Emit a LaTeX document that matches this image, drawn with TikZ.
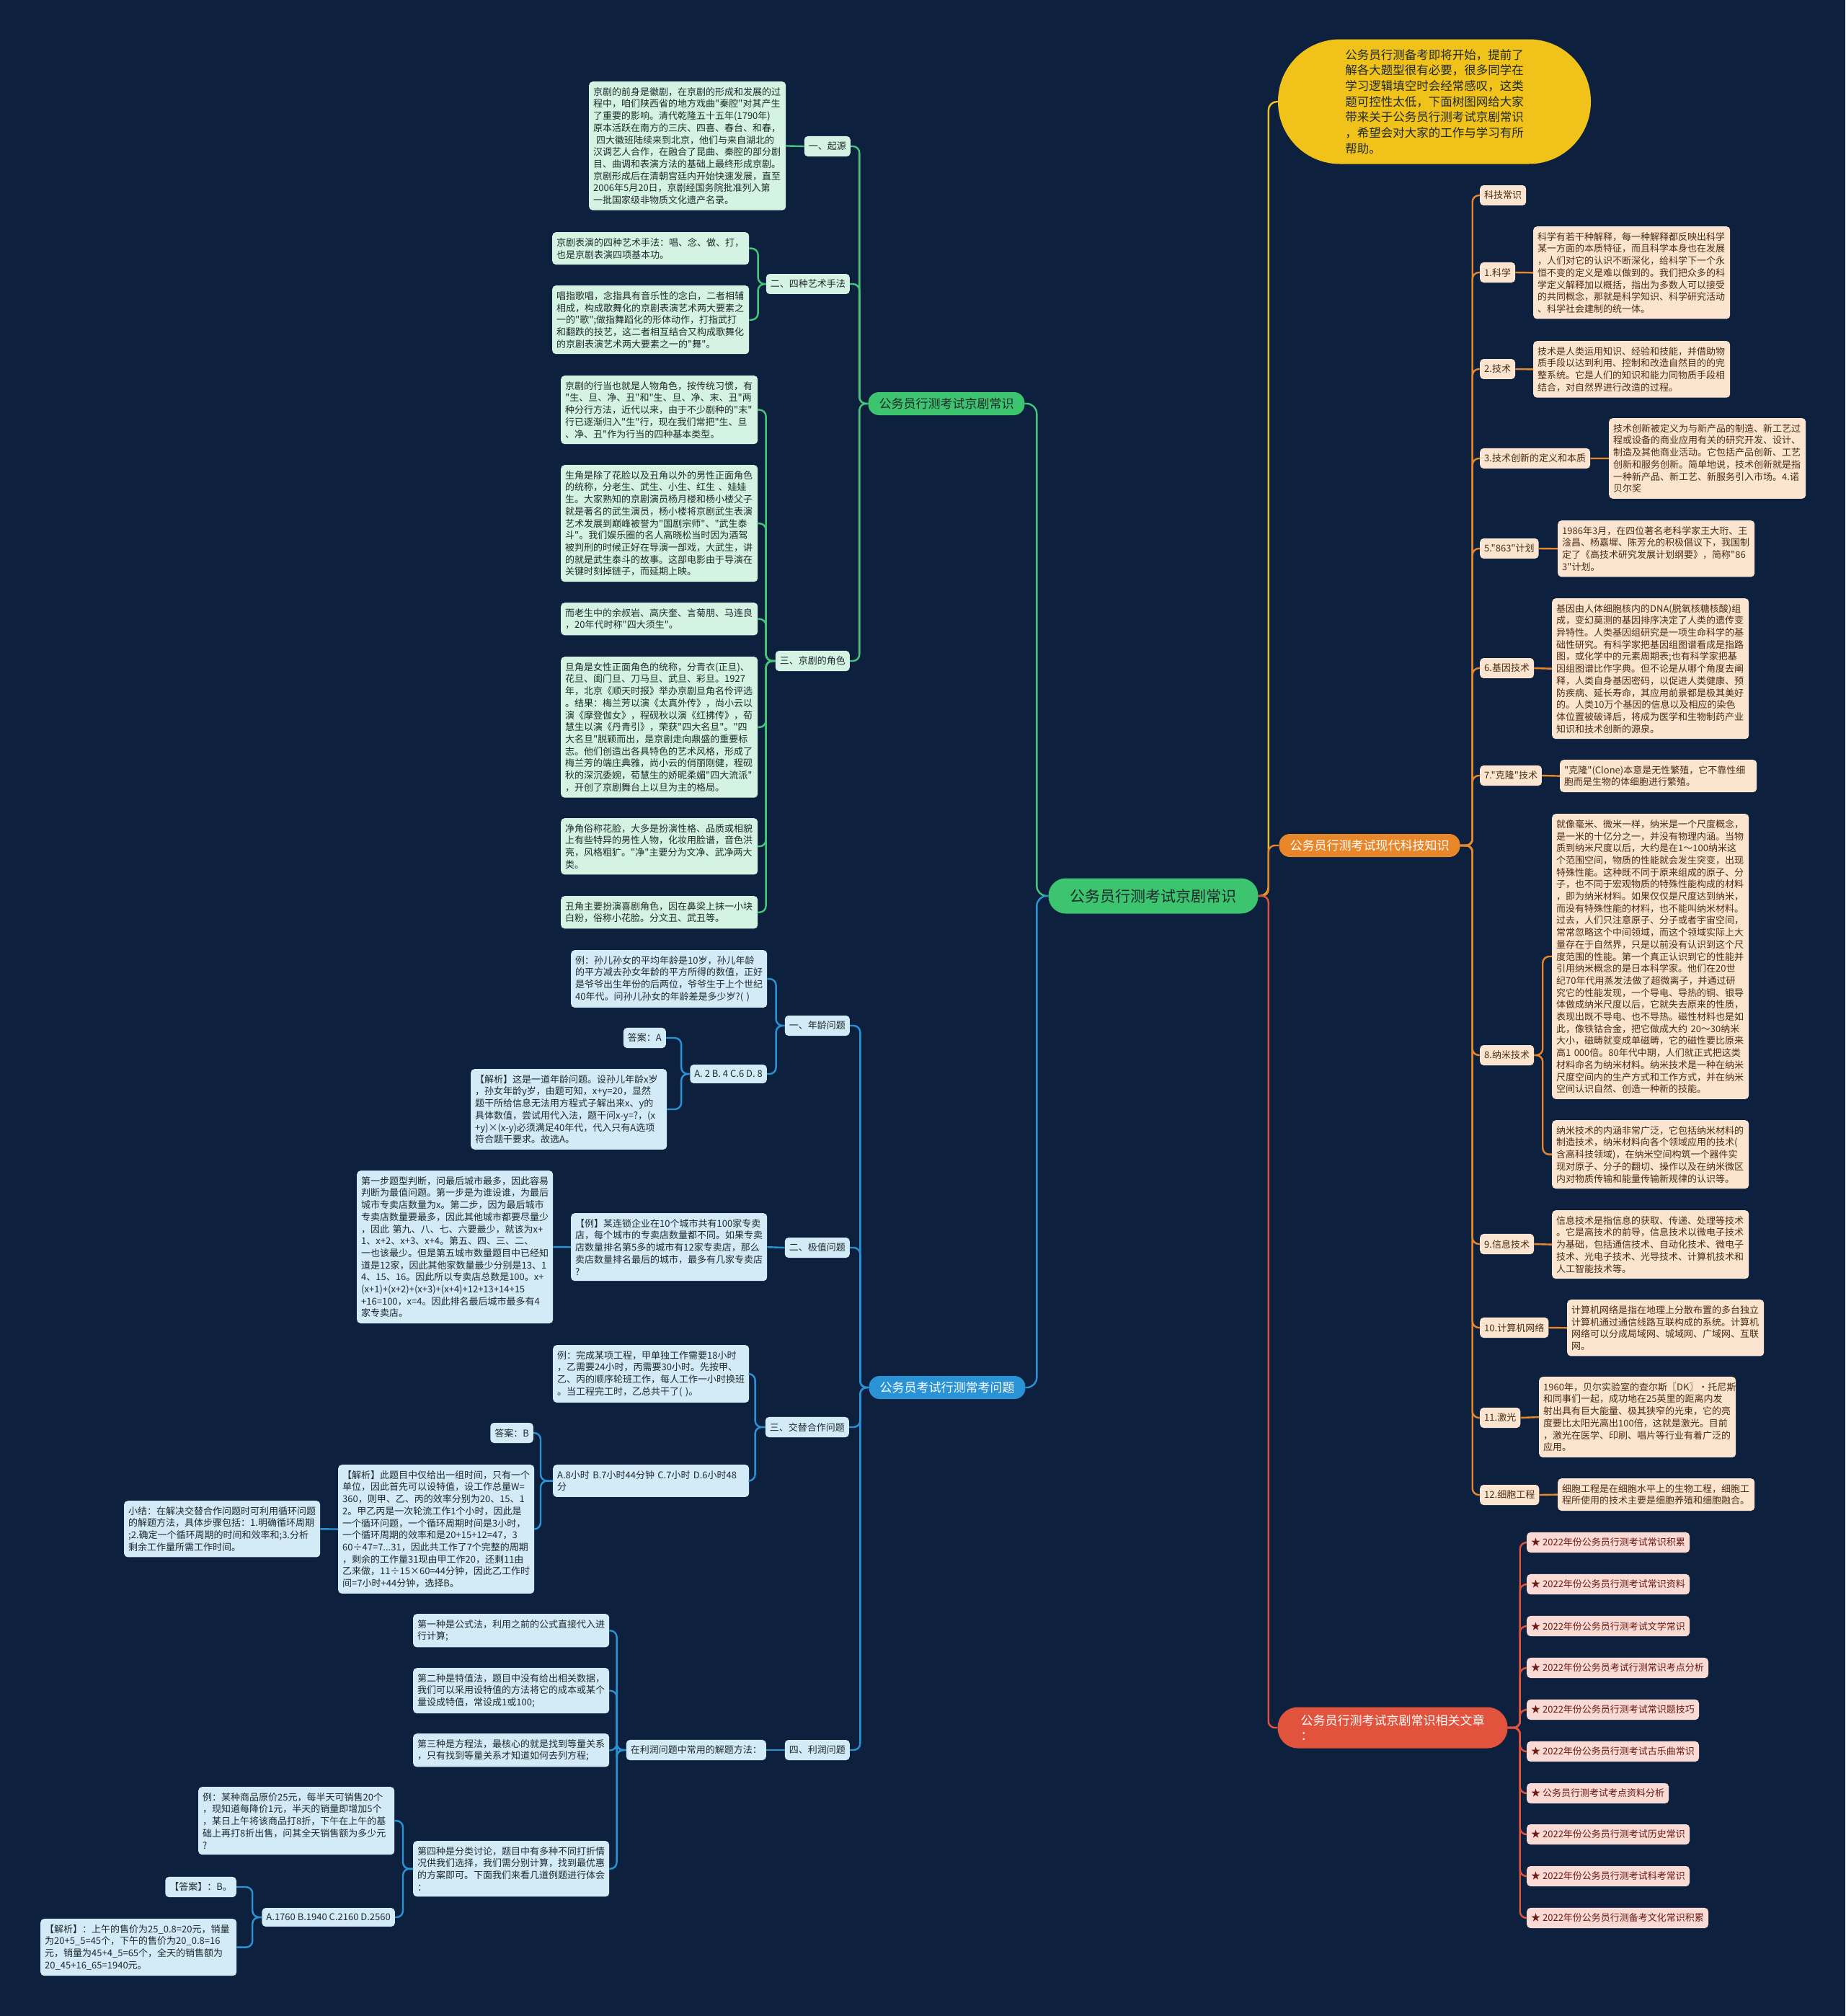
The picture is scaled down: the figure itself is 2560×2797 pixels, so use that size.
\documentclass[tikz,border=0pt]{standalone}
\usepackage{fontspec}
\setmainfont{Noto Sans CJK SC}[Ligatures=TeXOff]
\usepackage{xcolor}
\definecolor{navy-bg}{HTML}{0D213F}
\definecolor{root-green}{HTML}{3CC46E}
\definecolor{opera-line}{HTML}{45C67B}
\definecolor{opera-fill}{HTML}{D4F3E2}
\definecolor{exam-line}{HTML}{2A93D6}
\definecolor{exam-fill}{HTML}{D3EAF7}
\definecolor{tech-line}{HTML}{E8862A}
\definecolor{tech-fill}{HTML}{FBE5D0}
\definecolor{tech-ink}{HTML}{4B2D12}
\definecolor{read-line}{HTML}{E2533D}
\definecolor{read-fill}{HTML}{F9DAD5}
\definecolor{read-ink}{HTML}{6B1A14}
\definecolor{intro-gold}{HTML}{F0C21A}
\definecolor{leaf-ink}{HTML}{1F2A2E}
\newcommand{\leaffont}{\fontsize{13pt}{16.7pt}\selectfont}
\newcommand{\branchfont}{\fontsize{17pt}{21pt}\selectfont}

\begin{document}
\begin{tikzpicture}[x=1pt, y=-1pt,
    every node/.style={font=\leaffont, text=leaf-ink},
    gbox/.style={fill=opera-fill, rounded corners=5pt, inner xsep=6pt,
      inner ysep=8pt, align=left},
    gleaf/.style={gbox, text width=261pt, anchor=north west},
    bbox/.style={fill=exam-fill, rounded corners=5pt, inner xsep=6pt,
      inner ysep=8pt, align=left},
    bleaf/.style={bbox, text width=260pt, anchor=north west},
    obox/.style={fill=tech-fill, text=tech-ink, rounded corners=5pt,
      inner xsep=6pt, inner ysep=8pt, align=left},
    oleaf/.style={obox, text width=261pt, anchor=north west},
    rbox/.style={fill=read-fill, text=read-ink, rounded corners=5pt,
      inner xsep=6pt, inner ysep=8pt, anchor=west},
    branch/.style={font=\branchfont, text=white, rounded corners=15pt,
      minimum height=32pt, inner xsep=15pt},
    glink/.style={draw=opera-line, line width=2.4pt, rounded corners=9pt},
    blink/.style={draw=exam-line, line width=2.4pt, rounded corners=9pt},
    olink/.style={draw=tech-line, line width=2.4pt, rounded corners=9pt},
    rlink/.style={draw=read-line, line width=2.4pt, rounded corners=9pt},
    ylink/.style={draw=intro-gold, line width=2.4pt, rounded corners=12pt}]
    \useasboundingbox (0,0) rectangle (2560,2797);
    \fill[navy-bg] (0,0) rectangle (2560,2797);

    \node[fill=root-green, font=\fontsize{21pt}{25pt}\selectfont,
      rounded corners=24pt, minimum width=291pt, minimum height=49pt]
      (root) at (1600,1243) {公务员行测考试京剧常识};

    \node[branch, fill=root-green, text=leaf-ink] (jj) at (1313,560)
      {公务员行测考试京剧常识};
    \node[gbox, anchor=east] (jj1) at (1180,203) {一、起源};
    \node[gbox, anchor=east] (jj2) at (1179,394) {二、四种艺术手法};
    \node[gbox, anchor=east] (jj3) at (1179,917) {三、京剧的角色};
    \node[gleaf] (jj1a) at (817,113) {京剧的前身是徽剧，在京剧的形成和发展的过\\
      程中，咱们陕西省的地方戏曲"秦腔"对其产生\\
      了重要的影响。清代乾隆五十五年(1790年)\\
      原本活跃在南方的三庆、四喜、春台、和春，\\
      \hspace*{4pt}四大徽班陆续来到北京，他们与来自湖北的\\
      汉调艺人合作，在融合了昆曲、秦腔的部分剧\\
      目、曲调和表演方法的基础上最终形成京剧。\\
      京剧形成后在清朝宫廷内开始快速发展，直至\\
      2006年5月20日，京剧经国务院批准列入第\\
      一批国家级非物质文化遗产名录。};
    \node[gleaf] (jj2a) at (766,322) {京剧表演的四种艺术手法：唱、念、做、打，\\
      也是京剧表演四项基本功。};
    \node[gleaf] (jj2b) at (766,396) {唱指歌唱，念指具有音乐性的念白，二者相辅\\
      相成，构成歌舞化的京剧表演艺术两大要素之\\
      一的"歌";做指舞蹈化的形体动作，打指武打\\
      和翻跌的技艺，这二者相互结合又构成歌舞化\\
      的京剧表演艺术两大要素之一的"舞"。};
    \node[gleaf] (jj3a) at (778,521) {京剧的行当也就是人物角色，按传统习惯，有\\
      "生、旦、净、丑"和"生、旦、净、末、丑"两\\
      种分行方法，近代以来，由于不少剧种的"末"\\
      行已逐渐归入"生"行，现在我们常把"生、旦\\
      、净、丑"作为行当的四种基本类型。};
    \node[gleaf] (jj3b) at (778,645) {生角是除了花脸以及丑角以外的男性正面角色\\
      的统称，分老生、武生、小生、红生~、娃娃\\
      生。大家熟知的京剧演员杨月楼和杨小楼父子\\
      就是著名的武生演员，杨小楼将京剧武生表演\\
      艺术发展到巅峰被誉为"国剧宗师"、"武生泰\\
      斗"。我们娱乐圈的名人高晓松当时因为酒驾\\
      被判刑的时候正好在导演一部戏，大武生，讲\\
      的就是武生泰斗的故事。这部电影由于导演在\\
      关键时刻掉链子，而延期上映。};
    \node[gleaf] (jj3c) at (778,836) {而老生中的余叔岩、高庆奎、言菊朋、马连良\\
      ，20年代时称"四大须生"。};
    \node[gleaf] (jj3d) at (778,911) {旦角是女性正面角色的统称，分青衣(正旦)、\\
      花旦、闺门旦、刀马旦、武旦、彩旦。1927\\
      年，北京《顺天时报》举办京剧旦角名伶评选\\
      。结果：梅兰芳以演《太真外传》，尚小云以\\
      演《摩登伽女》，程砚秋以演《红拂传》，荀\\
      慧生以演《丹青引》，荣获"四大名旦"。"四\\
      大名旦"脱颖而出，是京剧走向鼎盛的重要标\\
      志。他们创造出各具特色的艺术风格，形成了\\
      梅兰芳的端庄典雅，尚小云的俏丽刚健，程砚\\
      秋的深沉委婉，荀慧生的娇昵柔媚"四大流派"\\
      ，开创了京剧舞台上以旦为主的格局。};
    \node[gleaf] (jj3e) at (778,1135) {净角俗称花脸，大多是扮演性格、品质或相貌\\
      上有些特异的男性人物，化妆用脸谱，音色洪\\
      亮，风格粗犷。"净"主要分为文净、武净两大\\
      类。};
    \node[gleaf] (jj3f) at (778,1243) {丑角主要扮演喜剧角色，因在鼻梁上抹一小块\\
      白粉，俗称小花脸。分文丑、武丑等。};

    \node[branch, fill=exam-line] (wt) at (1314,1925) {公务员考试行测常考问题};
    \node[bbox, anchor=east] (wt1) at (1179,1423) {一、年龄问题};
    \node[bleaf] (wt1a) at (792,1318) {例：孙儿孙女的平均年龄是10岁，孙儿年龄\\
      的平方减去孙女年龄的平方所得的数值，正好\\
      是爷爷出生年份的后两位，爷爷生于上个世纪\\
      40年代。问孙儿孙女的年龄差是多少岁?(~)};
    \node[bbox, anchor=east] (wt1b) at (1064,1490) {A. 2 B. 4 C.6 D. 8};
    \node[bbox, anchor=east] (wt1c) at (924,1440) {答案：A};
    \node[bleaf] (wt1d) at (653,1483) {【解析】这是一道年龄问题。设孙儿年龄x岁\\
      ，孙女年龄y岁，由题可知，x+y=20，显然\\
      题干所给信息无法用方程式子解出来x、y的\\
      具体数值，尝试用代入法，题干问x-y=?，(x\\
      +y)×(x-y)必须满足40年代，代入只有A选项\\
      符合题干要求。故选A。};
    \node[bbox, anchor=east] (wt2) at (1179,1731) {二、极值问题};
    \node[bleaf] (wt2a) at (792,1683) {【例】某连锁企业在10个城市共有100家专卖\\
      店，每个城市的专卖店数量都不同。如果专卖\\
      店数量排名第5多的城市有12家专卖店，那么\\
      卖店数量排名最后的城市，最多有几家专卖店\\
      ?};
    \node[bleaf] (wt2b) at (495,1624) {第一步题型判断，问最后城市最多，因此容易\\
      判断为最值问题。第一步是为谁设谁，为最后\\
      城市专卖店数量为x。第二步，因为最后城市\\
      专卖店数量要最多，因此其他城市都要尽量少\\
      ，因此~第九、八、七、六要最少，就该为x+\\
      1、x+2、x+3、x+4。第五、四、三、二、\\
      一也该最少。但是第五城市数量题目中已经知\\
      道是12家，因此其他家数量最少分别是13、1\\
      4、15、16。因此所以专卖店总数是100。x+\\
      (x+1)+(x+2)+(x+3)+(x+4)+12+13+14+15\\
      +16=100，x=4。因此排名最后城市最多有4\\
      家专卖店。};
    \node[bbox, anchor=east] (wt3) at (1178,1980) {三、交替合作问题};
    \node[bleaf] (wt3a) at (767,1866) {例：完成某项工程，甲单独工作需要18小时\\
      ，乙需要24小时，丙需要30小时。先按甲、\\
      乙、丙的顺序轮班工作，每人工作一小时换班\\
      。当工程完工时，乙总共干了(~)。};
    \node[bleaf] (wt3b) at (767,2032)
      {A.8小时~B.7小时44分钟~C.7小时~D.6小时48\\分};
    \node[bbox, anchor=east] (wt3c) at (740,1988) {答案：B};
    \node[bleaf] (wt3d) at (469,2032) {【解析】此题目中仅给出一组时间，只有一个\\
      单位，因此首先可以设特值，设工作总量W=\\
      360，则甲、乙、丙的效率分别为20、15、1\\
      2。甲乙丙是一次轮流工作1个小时，因此是\\
      一个循环问题，一个循环周期时间是3小时，\\
      一个循环周期的效率和是20+15+12=47，3\\
      60÷47=7...31，因此共工作了7个完整的周期\\
      ，剩余的工作量31现由甲工作20，还剩11由\\
      乙来做，11÷15×60=44分钟，因此乙工作时\\
      间=7小时+44分钟，选择B。};
    \node[bleaf] (wt3e) at (172,2082) {小结：在解决交替合作问题时可利用循环问题\\
      的解题方法，具体步骤包括：1.明确循环周期\\
      ;2.确定一个循环周期的时间和效率和;3.分析\\
      剩余工作量所需工作时间。};
    \node[bbox, anchor=east] (wt4) at (1179,2428) {四、利润问题};
    \node[bbox, anchor=east] (wt4a) at (1063,2428) {在利润问题中常用的解题方法：};
    \node[bleaf] (wt4b) at (573,2239) {第一种是公式法，利用之前的公式直接代入进\\
      行计算;};
    \node[bleaf] (wt4c) at (573,2314) {第二种是特值法，题目中没有给出相关数据，\\
      我们可以采用设特值的方法将它的成本或某个\\
      量设成特值，常设成1或100;};
    \node[bleaf] (wt4d) at (573,2405) {第三种是方程法，最核心的就是找到等量关系\\
      ，只有找到等量关系才知道如何去列方程;};
    \node[bleaf] (wt4e) at (573,2554) {第四种是分类讨论，题目中有多种不同打折情\\
      况供我们选择，我们需分别计算，找到最优惠\\
      的方案即可。下面我们来看几道例题进行体会\\
      ：};
    \node[bleaf] (wt4f) at (275,2479) {例：某种商品原价25元，每半天可销售20个\\
      ，现知道每降价1元，半天的销量即增加5个\\
      ，某日上午将该商品打8折，下午在上午的基\\
      础上再打8折出售，问其全天销售额为多少元\\
      ?};
    \node[bbox, anchor=east] (wt4g) at (548,2660) {A.1760 B.1940 C.2160 D.2560};
    \node[bbox, anchor=east] (wt4h) at (328,2618) {【答案】：B。};
    \node[bleaf] (wt4i) at (56,2662) {【解析】：上午的售价为25\_0.8=20元，销量\\
      为20+5\_5=45个，下午的售价为20\_0.8=16\\
      元，销量为45+4\_5=65个，全天的销售额为\\
      20\_45+16\_65=1940元。};

    \node[fill=intro-gold, rounded corners=86pt, minimum width=434pt,
      minimum height=173pt, align=left, text=leaf-ink,
      font=\fontsize{16.5pt}{21.7pt}\selectfont] (intro) at (1990,141)
      {公务员行测备考即将开始，提前了\\
      解各大题型很有必要，很多同学在\\
      学习逻辑填空时会经常感叹，这类\\
      题可控性太低，下面树图网给大家\\
      带来关于公务员行测考试京剧常识\\
      ，希望会对大家的工作与学习有所\\
      帮助。};

    \node[branch, fill=tech-line] (kj) at (1900,1173) {公务员行测考试现代科技知识};
    \node[obox, anchor=west] (kj0) at (2053,271) {科技常识};
    \node[obox, anchor=west] (kj1) at (2053,378) {1.科学};
    \node[oleaf] (kj1a) at (2127,314) {科学有若干种解释，每一种解释都反映出科学\\
      某一方面的本质特征，而且科学本身也在发展\\
      ，人们对它的认识不断深化，给科学下一个永\\
      恒不变的定义是难以做到的。我们把众多的科\\
      学定义解释加以概括，指出为多数人可以接受\\
      的共同概念，那就是科学知识、科学研究活动\\
      、科学社会建制的统一体。};
    \node[obox, anchor=west] (kj2) at (2053,512) {2.技术};
    \node[oleaf] (kj2a) at (2127,473) {技术是人类运用知识、经验和技能，并借助物\\
      质手段以达到利用、控制和改造自然目的的完\\
      整系统。它是人们的知识和能力同物质手段相\\
      结合，对自然界进行改造的过程。};
    \node[obox, anchor=west] (kj3) at (2053,636) {3.技术创新的定义和本质};
    \node[oleaf] (kj3a) at (2232,580) {技术创新被定义为与新产品的制造、新工艺过\\
      程或设备的商业应用有关的研究开发、设计、\\
      制造及其他商业活动。它包括产品创新、工艺\\
      创新和服务创新。简单地说，技术创新就是指\\
      一种新产品、新工艺、新服务引入市场。4.诺\\
      贝尔奖};
    \node[obox, anchor=west] (kj5) at (2053,761) {5."863"计划};
    \node[oleaf] (kj5a) at (2161,722) {1986年3月，在四位著名老科学家王大珩、王\\
      淦昌、杨嘉墀、陈芳允的积极倡议下，我国制\\
      定了《高技术研究发展计划纲要》，简称"86\\
      3"计划。};
    \node[obox, anchor=west] (kj6) at (2053,927) {6.基因技术};
    \node[oleaf] (kj6a) at (2153,830) {基因由人体细胞核内的DNA(脱氧核糖核酸)组\\
      成，变幻莫测的基因排序决定了人类的遗传变\\
      异特性。人类基因组研究是一项生命科学的基\\
      础性研究。有科学家把基因组图谱看成是指路\\
      图，或化学中的元素周期表;也有科学家把基\\
      因组图谱比作字典。但不论是从哪个角度去阐\\
      释，人类自身基因密码，以促进人类健康、预\\
      防疾病、延长寿命，其应用前景都是极其美好\\
      的。人类10万个基因的信息以及相应的染色\\
      体位置被破译后，将成为医学和生物制药产业\\
      知识和技术创新的源泉。};
    \node[obox, anchor=west] (kj7) at (2053,1076) {7."克隆"技术};
    \node[oleaf] (kj7a) at (2164,1054) {"克隆"(Clone)本意是无性繁殖，它不靠性细\\
      胞而是生物的体细胞进行繁殖。};
    \node[obox, anchor=west] (kj8) at (2053,1464) {8.纳米技术};
    \node[oleaf] (kj8a) at (2153,1129) {就像毫米、微米一样，纳米是一个尺度概念，\\
      是一米的十亿分之一，并没有物理内涵。当物\\
      质到纳米尺度以后，大约是在1～100纳米这\\
      个范围空间，物质的性能就会发生突变，出现\\
      特殊性能。这种既不同于原来组成的原子、分\\
      子，也不同于宏观物质的特殊性能构成的材料\\
      ，即为纳米材料。如果仅仅是尺度达到纳米，\\
      而没有特殊性能的材料，也不能叫纳米材料。\\
      过去，人们只注意原子、分子或者宇宙空间，\\
      常常忽略这个中间领域，而这个领域实际上大\\
      量存在于自然界，只是以前没有认识到这个尺\\
      度范围的性能。第一个真正认识到它的性能并\\
      引用纳米概念的是日本科学家。他们在20世\\
      纪70年代用蒸发法做了超微离子，并通过研\\
      究它的性能发现，一个导电、导热的铜、银导\\
      体做成纳米尺度以后，它就失去原来的性质，\\
      表现出既不导电、也不导热。磁性材料也是如\\
      此，像铁钴合金，把它做成大约~20～30纳米\\
      大小，磁畴就变成单磁畴，它的磁性要比原来\\
      高1~000倍。80年代中期，人们就正式把这类\\
      材料命名为纳米材料。纳米技术是一种在纳米\\
      尺度空间内的生产方式和工作方式，并在纳米\\
      空间认识自然、创造一种新的技能。};
    \node[oleaf] (kj8b) at (2153,1554) {纳米技术的内涵非常广泛，它包括纳米材料的\\
      制造技术，纳米材料向各个领域应用的技术(\\
      含高科技领域)，在纳米空间构筑一个器件实\\
      现对原子、分子的翻切、操作以及在纳米微区\\
      内对物质传输和能量传输新规律的认识等。};
    \node[obox, anchor=west] (kj9) at (2053,1726) {9.信息技术};
    \node[oleaf] (kj9a) at (2153,1679) {信息技术是指信息的获取、传递、处理等技术\\
      。它是高技术的前导，信息技术以微电子技术\\
      为基础，包括通信技术、自动化技术、微电子\\
      技术、光电子技术、光导技术、计算机技术和\\
      人工智能技术等。};
    \node[obox, anchor=west] (kj10) at (2053,1842) {10.计算机网络};
    \node[oleaf] (kj10a) at (2174,1803) {计算机网络是指在地理上分散布置的多台独立\\
      计算机通过通信线路互联构成的系统。计算机\\
      网络可以分成局域网、城域网、广域网、互联\\
      网。};
    \node[obox, anchor=west] (kj11) at (2053,1967) {11.激光};
    \node[oleaf] (kj11a) at (2135,1910) {1960年，贝尔实验室的查尔斯〖DK〗·托尼斯\\
      和同事们一起，成功地在25英里的距离内发\\
      射出具有巨大能量、极其狭窄的光束，它的亮\\
      度要比太阳光高出100倍，这就是激光。目前\\
      ，激光在医学、印刷、唱片等行业有着广泛的\\
      应用。};
    \node[obox, anchor=west] (kj12) at (2053,2074) {12.细胞工程};
    \node[oleaf] (kj12a) at (2161,2051) {细胞工程是在细胞水平上的生物工程，细胞工\\
      程所使用的技术主要是细胞养殖和细胞融合。};

    \node[branch, fill=read-line, align=left, rounded corners=28pt,
      minimum height=57pt, minimum width=319pt] (wz) at (1932,2397)
      {公务员行测考试京剧常识相关文章\\：};
    \node[rbox] (wz1) at (2118,2140) {★ 2022年份公务员行测考试常识积累};
    \node[rbox] (wz2) at (2118,2198) {★ 2022年份公务员行测考试常识资料};
    \node[rbox] (wz3) at (2118,2256) {★ 2022年份公务员行测考试文学常识};
    \node[rbox] (wz4) at (2118,2314) {★ 2022年份公务员考试行测常识考点分析};
    \node[rbox] (wz5) at (2118,2372) {★ 2022年份公务员行测考试常识题技巧};
    \node[rbox] (wz6) at (2118,2430) {★ 2022年份公务员行测考试古乐曲常识};
    \node[rbox] (wz7) at (2118,2488) {★ 公务员行测考试考点资料分析};
    \node[rbox] (wz8) at (2118,2545) {★ 2022年份公务员行测考试历史常识};
    \node[rbox] (wz9) at (2118,2603) {★ 2022年份公务员行测考试科考常识};
    \node[rbox] (wz10) at (2118,2661) {★ 2022年份公务员行测备考文化常识积累};

    \draw[glink, rounded corners=14pt] (root.west) -- ++(-16,0) |- (jj.east);
    \draw[blink, rounded corners=14pt] (root.west) -- ++(-16,0) |- (wt.east);
    \draw[ylink] (root.east) -- ++(14,0) |- (intro.west);
    \draw[olink] (root.east) -- ++(14,0) |- (kj.west);
    \draw[rlink] (root.east) -- ++(14,0) |- (wz.west);

    \draw[glink] (jj.west) -- ++(-12,0) |- (jj1.east);
    \draw[glink] (jj.west) -- ++(-12,0) |- (jj2.east);
    \draw[glink] (jj.west) -- ++(-12,0) |- (jj3.east);
    \draw[glink] (jj1.west) -- (jj1a.east);
    \draw[glink] (jj2.west) -- ++(-11,0) |- (jj2a.east);
    \draw[glink] (jj2.west) -- ++(-11,0) |- (jj2b.east);
    \draw[glink] (jj3.west) -- ++(-13,0) |- (jj3a.east);
    \draw[glink] (jj3.west) -- ++(-13,0) |- (jj3b.east);
    \draw[glink] (jj3.west) -- ++(-13,0) |- (jj3c.east);
    \draw[glink] (jj3.west) -- ++(-13,0) |- (jj3d.east);
    \draw[glink] (jj3.west) -- ++(-13,0) |- (jj3e.east);
    \draw[glink] (jj3.west) -- ++(-13,0) |- (jj3f.east);

    \draw[blink] (wt.west) -- ++(-12,0) |- (wt1.east);
    \draw[blink] (wt.west) -- ++(-12,0) |- (wt2.east);
    \draw[blink] (wt.west) -- ++(-12,0) |- (wt3.east);
    \draw[blink] (wt.west) -- ++(-12,0) |- (wt4.east);
    \draw[blink] (wt1.west) -- ++(-12,0) |- (wt1a.east);
    \draw[blink] (wt1.west) -- ++(-12,0) |- (wt1b.east);
    \draw[blink] (wt1b.west) -- ++(-12,0) |- (wt1c.east);
    \draw[blink] (wt1b.west) -- ++(-12,0) |- (wt1d.east);
    \draw[blink] (wt2.west) -- (wt2a.east);
    \draw[blink] (wt2a.west) -- (wt2b.east);
    \draw[blink] (wt3.west) -- ++(-14,0) |- (wt3a.east);
    \draw[blink] (wt3.west) -- ++(-14,0) |- (wt3b.east);
    \draw[blink] (wt3b.west) -- ++(-17,0) |- (wt3c.east);
    \draw[blink] (wt3b.west) -- ++(-17,0) |- (wt3d.east);
    \draw[blink] (wt3d.west) -- (wt3e.east);
    \draw[blink] (wt4.west) -- (wt4a.east);
    \draw[blink] (wt4a.west) -- ++(-13,0) |- (wt4b.east);
    \draw[blink] (wt4a.west) -- ++(-13,0) |- (wt4c.east);
    \draw[blink] (wt4a.west) -- ++(-13,0) |- (wt4d.east);
    \draw[blink] (wt4a.west) -- ++(-13,0) |- (wt4e.east);
    \draw[blink] (wt4e.west) -- ++(-14,0) |- (wt4f.east);
    \draw[blink] (wt4e.west) -- ++(-14,0) |- (wt4g.east);
    \draw[blink] (wt4g.west) -- ++(-13,0) |- (wt4h.east);
    \draw[blink] (wt4g.west) -- ++(-13,0) |- (wt4i.east);

    \draw[olink] (kj.east) -- ++(17,0) |- (kj0.west);
    \draw[olink] (kj.east) -- ++(17,0) |- (kj1.west);
    \draw[olink] (kj.east) -- ++(17,0) |- (kj2.west);
    \draw[olink] (kj.east) -- ++(17,0) |- (kj3.west);
    \draw[olink] (kj.east) -- ++(17,0) |- (kj5.west);
    \draw[olink] (kj.east) -- ++(17,0) |- (kj6.west);
    \draw[olink] (kj.east) -- ++(17,0) |- (kj7.west);
    \draw[olink] (kj.east) -- ++(17,0) |- (kj8.west);
    \draw[olink] (kj.east) -- ++(17,0) |- (kj9.west);
    \draw[olink] (kj.east) -- ++(17,0) |- (kj10.west);
    \draw[olink] (kj.east) -- ++(17,0) |- (kj11.west);
    \draw[olink] (kj.east) -- ++(17,0) |- (kj12.west);
    \draw[olink] (kj1.east) -- (kj1a.west);
    \draw[olink] (kj2.east) -- (kj2a.west);
    \draw[olink] (kj3.east) -- (kj3a.west);
    \draw[olink] (kj5.east) -- (kj5a.west);
    \draw[olink] (kj6.east) -- (kj6a.west);
    \draw[olink] (kj7.east) -- (kj7a.west);
    \draw[olink] (kj8.east) -- ++(12,0) |- (kj8a.west);
    \draw[olink] (kj8.east) -- ++(12,0) |- (kj8b.west);
    \draw[olink] (kj9.east) -- (kj9a.west);
    \draw[olink] (kj10.east) -- (kj10a.west);
    \draw[olink] (kj11.east) -- (kj11a.west);
    \draw[olink] (kj12.east) -- (kj12a.west);

    \draw[rlink] (wz.east) -- ++(17,0) |- (wz1.west);
    \draw[rlink] (wz.east) -- ++(17,0) |- (wz2.west);
    \draw[rlink] (wz.east) -- ++(17,0) |- (wz3.west);
    \draw[rlink] (wz.east) -- ++(17,0) |- (wz4.west);
    \draw[rlink] (wz.east) -- ++(17,0) |- (wz5.west);
    \draw[rlink] (wz.east) -- ++(17,0) |- (wz6.west);
    \draw[rlink] (wz.east) -- ++(17,0) |- (wz7.west);
    \draw[rlink] (wz.east) -- ++(17,0) |- (wz8.west);
    \draw[rlink] (wz.east) -- ++(17,0) |- (wz9.west);
    \draw[rlink] (wz.east) -- ++(17,0) |- (wz10.west);
  \end{tikzpicture}
\end{document}
